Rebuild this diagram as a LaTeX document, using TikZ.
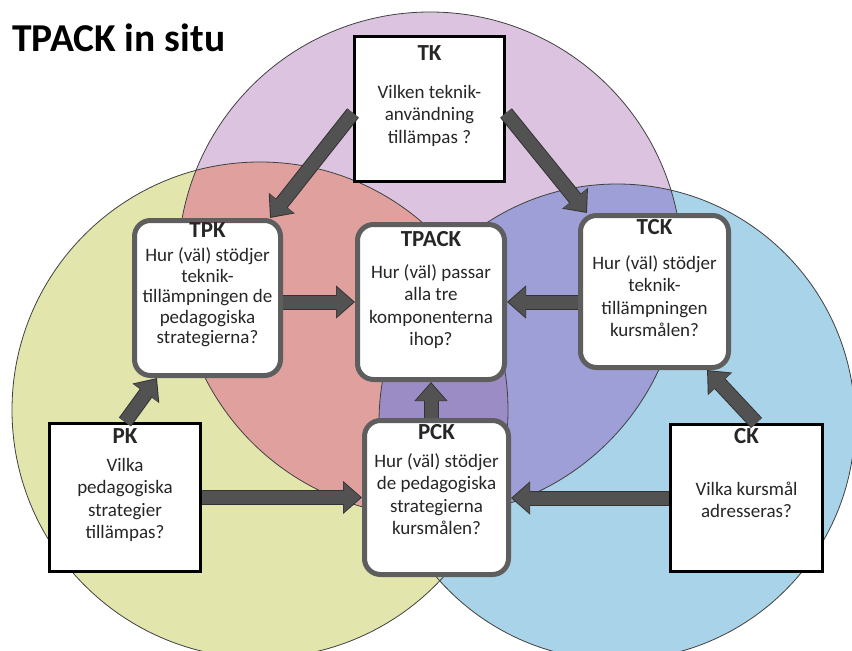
\documentclass[tikz,border=0pt]{standalone}
\usepackage{fontspec}
\setmainfont{Carlito}
\usepackage{tikz}
\usetikzlibrary{arrows.meta, positioning}

\definecolor{topfill}{HTML}{DCC3DF}
\definecolor{leftfill}{HTML}{E3E6AC}
\definecolor{rightfill}{HTML}{A9D3E8}
\definecolor{tlfill}{HTML}{E0A19E}
\definecolor{trfill}{HTML}{9D9FD6}
\definecolor{lrfill}{HTML}{C6DFC6}
\definecolor{midfill}{HTML}{9C8CC6}
\definecolor{boxgray}{HTML}{5E5E5E}
\definecolor{arrowgray}{HTML}{525252}

\newcommand{\boxhead}[1]{{\fontsize{23}{22.5}\selectfont\bfseries #1}}

\begin{document}
\begin{tikzpicture}[x=1pt, y=-1pt,
    circline/.style={draw=black!75, line width=0.8pt},
    sqbox/.style={draw=black, line width=3pt, fill=white},
    rbox/.style={draw=boxgray, line width=5pt, fill=white, rounded corners=16pt},
    txt/.style={inner sep=0pt, align=center, text=black!85, font=\fontsize{19}{22.5}\selectfont},
    fatarrow/.style={draw=arrowgray, line width=13pt, shorten >=1.5pt, -{Triangle[width=29pt,length=17pt]},
        preaction={draw=black!80, line width=15pt, shorten >=0pt, -{Triangle[width=32pt,length=19pt]}}}]
    \useasboundingbox (0,0) rectangle (852,651);
    \clip (0,0) rectangle (852,651);

    % 三つの円
    \fill[topfill] (430,264) circle[radius=252pt]; %T
    \fill[leftfill] (260,410) circle[radius=248pt]; %P
    \fill[rightfill] (617,422) circle[radius=238pt]; %C
    \begin{scope}
        \clip (430,264) circle[radius=252pt];
        \fill[tlfill] (260,410) circle[radius=248pt]; %TP
        \fill[trfill] (617,422) circle[radius=238pt]; %TC
    \end{scope}
    \begin{scope}
        \clip (260,410) circle[radius=248pt];
        \fill[lrfill] (617,422) circle[radius=238pt]; %PC
        \clip (430,264) circle[radius=252pt];
        \fill[midfill] (617,422) circle[radius=238pt]; %TPC
    \end{scope}
    \draw[circline] (430,264) circle[radius=252pt];
    \draw[circline] (260,410) circle[radius=248pt];
    \draw[circline] (617,422) circle[radius=238pt];

    \node[anchor=base west, inner sep=0pt, font=\fontsize{39.5}{41}\selectfont\bfseries] (title) at (12,51) {TPACK in situ};

    % 箱
    \node[sqbox, minimum width=150pt, minimum height=145pt] (tk) at (429.5,109) {};
    \node[rbox, minimum width=146pt, minimum height=155pt] (tpk) at (207.5,298) {};
    \node[rbox, minimum width=147pt, minimum height=155pt] (tpack) at (431,302) {};
    \node[rbox, minimum width=148pt, minimum height=152pt] (tck) at (654.5,291.5) {};
    \node[sqbox, minimum width=151pt, minimum height=148pt] (pk) at (125,497.5) {};
    \node[rbox, minimum width=144pt, minimum height=154pt] (pck) at (436.5,497.5) {};
    \node[sqbox, minimum width=152pt, minimum height=147pt] (ck) at (746.5,498) {};

    % 文字
    \node[txt, below=10pt of tk.north] (tktxt) {\boxhead{TK}\\[15.5pt]Vilken teknik-\\användning\\tillämpas ?};
    \node[txt, font=\fontsize{19}{20.5}\selectfont, below=4pt of tpk.north] (tpktxt) {\boxhead{TPK}\\[4pt]Hur (väl) stödjer\\teknik-\\tillämpningen de\\pedagogiska\\strategierna?};
    \node[txt, below=9pt of tpack.north] (tpacktxt) {\boxhead{TPACK}\\[9.5pt]Hur (väl) passar\\alla tre\\komponenterna\\ihop?};
    \node[txt, below=6pt of tck.north] (tcktxt) {\boxhead{TCK}\\[12.5pt]Hur (väl) stödjer\\teknik-\\tillämpningen\\kursmålen?};
    \node[txt, below=6pt of pk.north] (pktxt) {\boxhead{PK}\\[5.5pt]Vilka\\pedagogiska\\strategier\\tillämpas?};
    \node[txt, below=6pt of pck.north] (pcktxt) {\boxhead{PCK}\\[5.5pt]Hur (väl) stödjer\\de pedagogiska\\strategierna\\kursmålen?};
    \node[txt, below=5pt of ck.north] (cktxt) {\boxhead{CK}\\[29.5pt]Vilka kursmål\\adresseras?};

    % 矢印
    \draw[fatarrow] ([yshift=-4pt]tk.west) -- ([xshift=-13pt]tpk.north east);
    \draw[fatarrow] ([yshift=-4pt]tk.east) -- ([xshift=9pt]tck.north west);
    \draw[fatarrow] (tpk.east |- tpack.west) -- (tpack.west);
    \draw[fatarrow] (tck.west |- tpack.east) -- (tpack.east);
    \draw[fatarrow] (pck.north -| tpack.south) -- (tpack.south);
    \draw[fatarrow] (pk.north) -- ([xshift=25pt]tpk.south west);
    \draw[fatarrow] ([xshift=10pt]ck.north) -- ([xshift=-24pt]tck.south east);
    \draw[fatarrow] (pk.east) -- (pck.west);
    \draw[fatarrow] (ck.west) -- (ck.west -| pck.east);
\end{tikzpicture}
\end{document}
